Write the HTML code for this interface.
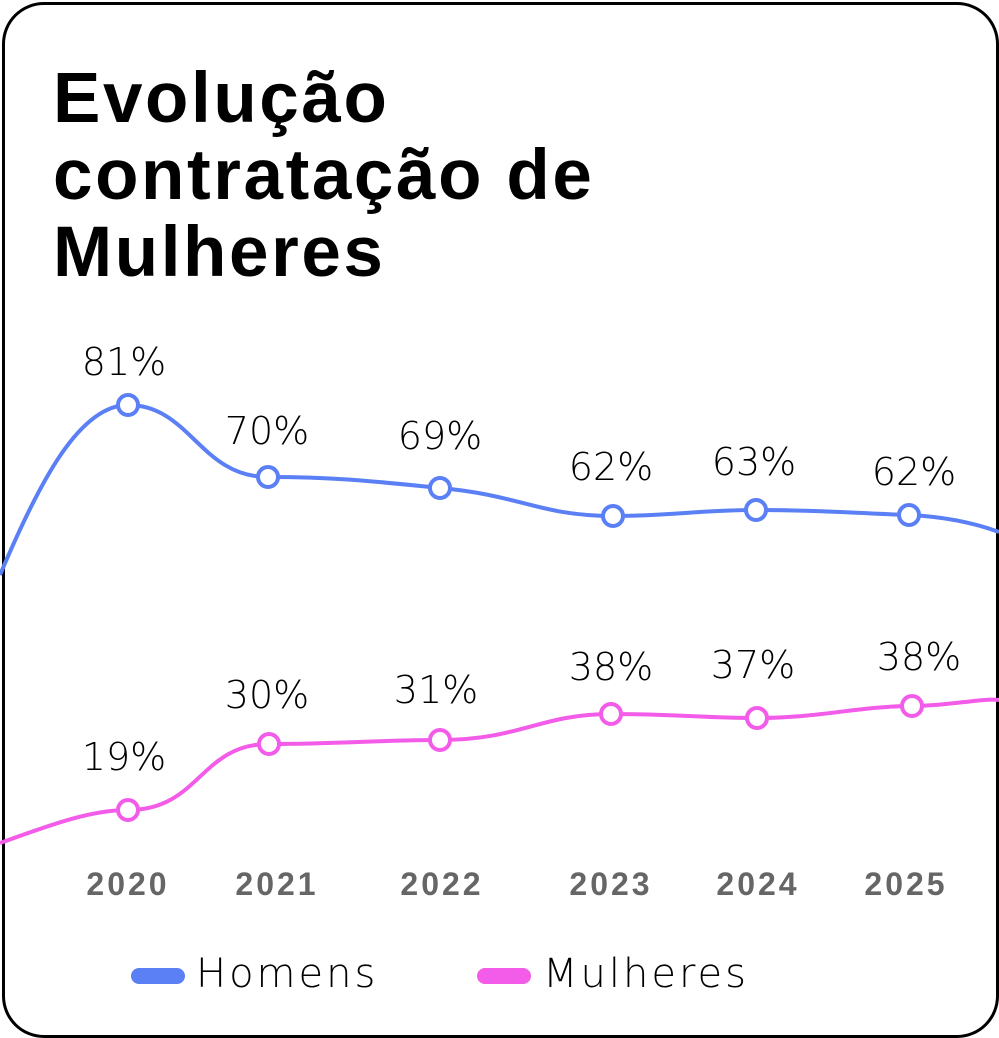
<!DOCTYPE html>
<html><head><meta charset="utf-8"><style>
html,body{margin:0;padding:0;background:#fff;}
body{width:999px;height:1038px;overflow:hidden;position:relative;font-family:"Liberation Sans",sans-serif;}
.card{position:absolute;left:2px;top:2px;width:991px;height:1030px;border:3px solid #000;border-radius:42px;}
</style></head><body>
<div class="card"></div>
<svg width="999" height="1038" style="position:absolute;left:0;top:0" xmlns="http://www.w3.org/2000/svg">
<g font-family="Liberation Sans, sans-serif" font-weight="bold" font-size="71" fill="#000" letter-spacing="2.6">
<text x="53" y="122">Evolução</text>
<text x="53" y="199">contratação de</text>
<text x="53" y="276">Mulheres</text>
</g>
<path d="M0,575 C40,480 80,405 128,405 C190,405 200,477 268,477 C340,477 380,482 440,488 C520,495 540,516 613,516 C670,516 700,510 756,510 C820,510 850,513 909,515 C950,517 980,525 999,532" fill="none" stroke="#5b7ff5" stroke-width="4"/>
<path d="M0,843 C50,825 90,810 128,810 C200,810 200,744 269,744 C340,744 380,740 440,740 C520,740 540,714 611,714 C680,714 700,718 757,718 C820,718 860,706 912,706 C950,706 980,698 999,700" fill="none" stroke="#f25ce8" stroke-width="4"/>
<g fill="#fff" stroke="#5b7ff5" stroke-width="4">
<circle cx="128" cy="405" r="10"/><circle cx="268" cy="477" r="10"/><circle cx="440" cy="488" r="10"/><circle cx="613" cy="516" r="10"/><circle cx="756" cy="510" r="10"/><circle cx="909" cy="515" r="10"/>
</g>
<g fill="#fff" stroke="#f25ce8" stroke-width="4">
<circle cx="128" cy="810" r="10"/><circle cx="269" cy="744" r="10"/><circle cx="440" cy="740" r="10"/><circle cx="611" cy="714" r="10"/><circle cx="757" cy="718" r="10"/><circle cx="912" cy="706" r="10"/>
</g>
<g font-size="38" fill="#000" text-anchor="middle" font-family="DejaVu Sans, sans-serif" font-weight="200">
<text x="124" y="375">81%</text><text x="267" y="444">70%</text><text x="440" y="449">69%</text><text x="611" y="480">62%</text><text x="754" y="475">63%</text><text x="914" y="485">62%</text>
<text x="124" y="770">19%</text><text x="267" y="708">30%</text><text x="436" y="703">31%</text><text x="611" y="680">38%</text><text x="753" y="678">37%</text><text x="919" y="670">38%</text>
</g>
<g font-size="32" font-weight="bold" fill="#666" text-anchor="middle" letter-spacing="3">
<text x="128" y="895">2020</text><text x="277" y="895">2021</text><text x="442" y="895">2022</text><text x="611" y="895">2023</text><text x="758" y="895">2024</text><text x="906" y="895">2025</text>
</g>
<line x1="139" y1="976" x2="177" y2="976" stroke="#5b7ff5" stroke-width="16" stroke-linecap="round"/>
<line x1="485" y1="976" x2="523" y2="976" stroke="#f25ce8" stroke-width="16" stroke-linecap="round"/>
<g font-size="40" fill="#000" font-family="DejaVu Sans, sans-serif" font-weight="200" letter-spacing="3">
<text x="196" y="987">Homens</text><text x="543" y="987">Mulheres</text>
</g>
</svg>
</body></html>
